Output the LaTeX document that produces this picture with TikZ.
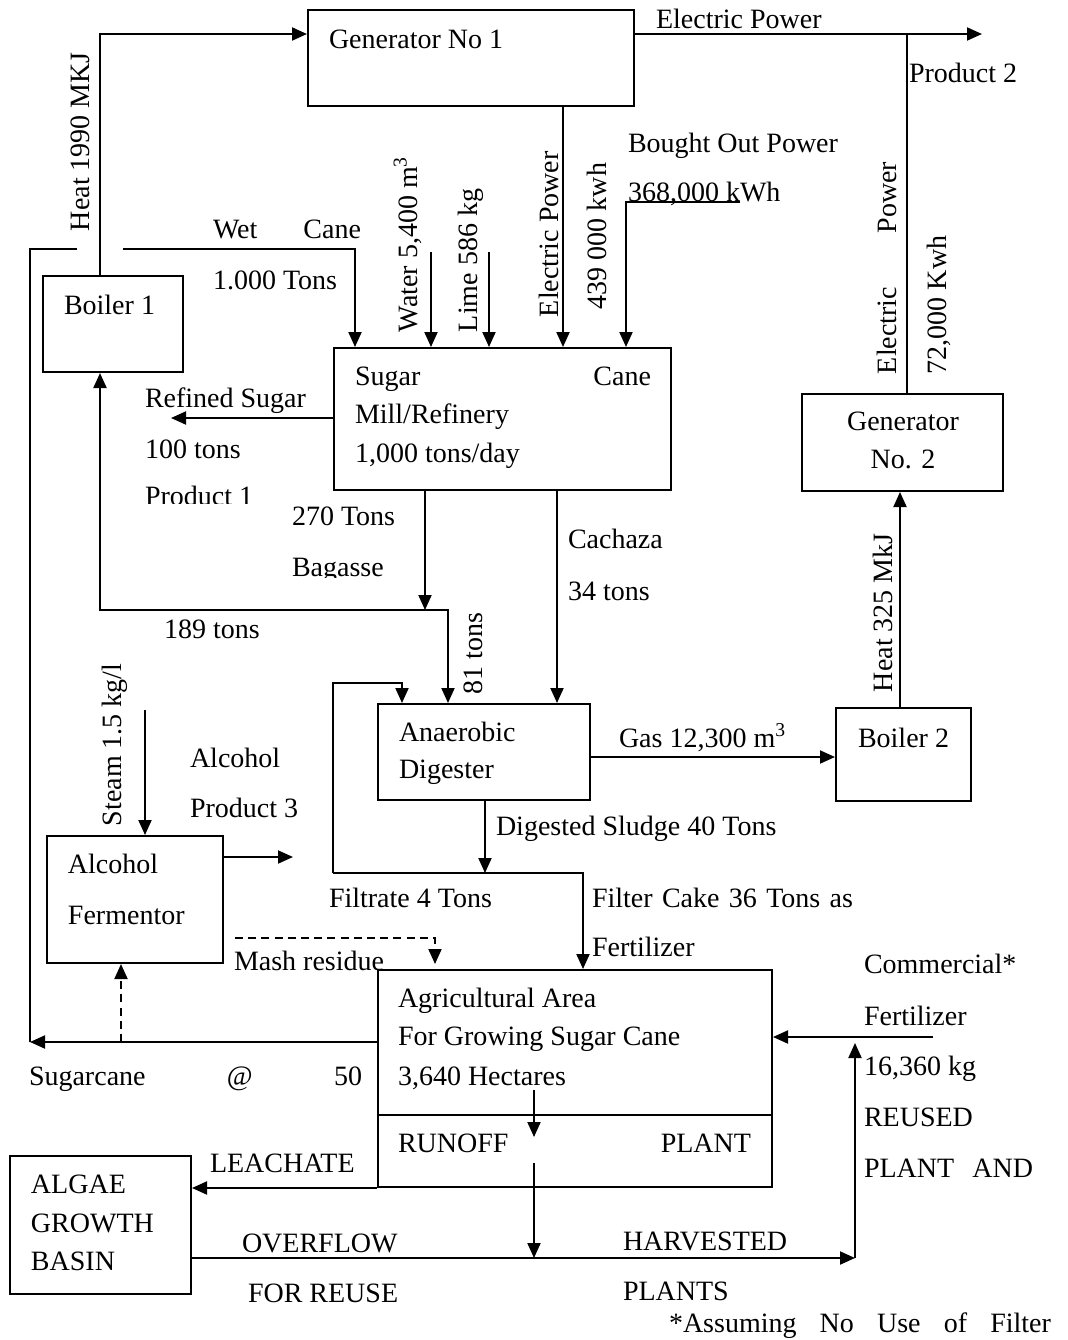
\documentclass[tikz,border=0pt]{standalone}
\usepackage{fontspec}
\setmainfont{Liberation Serif}
\usetikzlibrary{arrows.meta,fit}
\begin{document}
\begin{tikzpicture}[x=0.5pt,y=-0.5pt,line width=1pt,
  box/.style={draw,inner sep=0pt,line width=1pt},
  lbl/.style={anchor=base west,inner sep=0pt,font=\fontsize{14}{16}\selectfont},
  clbl/.style={lbl,anchor=base},
  elbl/.style={lbl,anchor=base east},
  rlbl/.style={lbl,rotate=90},
  arr/.style={-{Triangle[length=7.5pt,width=6.5pt]}},
  dsh/.style={dash pattern=on 4pt off 2.6pt}]
\useasboundingbox (0,0) rectangle (1067,1340);
% boxes
\node[box,fit={(308,10) (634,106)}] (gen1) {};
\node[box,fit={(43,276) (183,372)}] (boiler1) {};
\node[box,fit={(334,348) (671,490)}] (mill) {};
\node[box,fit={(802,394) (1003,491)}] (gen2) {};
\node[box,fit={(378,704) (590,800)}] (digester) {};
\node[box,fit={(836,708) (971,801)}] (boiler2) {};
\node[box,fit={(47,836) (223,963)}] (ferm) {};
\node[box,fit={(378,970) (772,1187)}] (agri) {};
\node[box,fit={(10,1156) (191,1294)}] (algae) {};
% coordinates
\coordinate (hA) at (100,34);
\coordinate (eA) at (907,34);
\coordinate (eEnd) at (982,34);
\coordinate (eB) at (563,200);
\coordinate (bA) at (626,202);
\coordinate (bEnd) at (740,202);
\coordinate (wA) at (431,252);
\coordinate (lA) at (489,252);
\coordinate (scA) at (30,249);
\coordinate (scB) at (355,249);
\coordinate (g1) at (77,249);
\coordinate (g2) at (123,249);
\coordinate (scC) at (30,1042);
\coordinate (rA) at (171,418);
\coordinate (bgA) at (425,610);
\coordinate (lpA) at (100,610);
\coordinate (lpB) at (448,610);
\coordinate (cA) at (557,600);
\coordinate (fA) at (333,683);
\coordinate (fB) at (402,683);
\coordinate (fC) at (333,873);
\coordinate (fD) at (583,873);
\coordinate (dA) at (485,873);
\coordinate (gA) at (700,757);
\coordinate (hB) at (900,600);
\coordinate (sA) at (145,710);
\coordinate (aA) at (225,857);
\coordinate (aB) at (293,857);
\coordinate (mA) at (235,938);
\coordinate (mB) at (435,938);
\coordinate (mC) at (435,964);
\coordinate (dsA) at (121,1042);
\coordinate (dv) at (500,1115);
\coordinate (roA) at (534,1090);
\coordinate (roB) at (534,1137);
\coordinate (roC) at (534,1163);
\coordinate (roD) at (534,1258);
\coordinate (ovA) at (855,1258);
\coordinate (ovB) at (855,1043);
\coordinate (cmA) at (933,1037);
% connectors
\draw[arr] (hA |- boiler1.north) -- (hA) -- (hA -| gen1.west);
\draw[arr] (gen1.east |- eA) -- (eEnd);
\draw (eA) -- (eA |- gen2.north);
\draw[arr] (eB |- gen1.south) -- (eB |- mill.north);
\draw[arr] (bEnd) -- (bA) -- (bA |- mill.north);
\draw[arr] (wA) -- (wA |- mill.north);
\draw[arr] (lA) -- (lA |- mill.north);
\draw[arr] (agri.west |- scC) -- (scC);
\draw (scC) -- (scA) -- (g1);
\draw[arr] (g2) -- (scB) -- (scB |- mill.north);
\draw[arr] (mill.west |- rA) -- (rA);
\draw[arr] (bgA |- mill.south) -- (bgA);
\draw[arr] (bgA) -- (lpA) -- (lpA |- boiler1.south);
\draw[arr] (bgA) -- (lpB) -- (lpB |- digester.north);
\draw[arr] (cA |- mill.south) -- (cA |- digester.north);
\draw[arr] (fC) -- (fA) -- (fB) -- (fB |- digester.north);
\draw[arr] (fC) -- (fD) -- (fD |- agri.north);
\draw[arr] (dA |- digester.south) -- (dA);
\draw[arr] (digester.east |- gA) -- (boiler2.west |- gA);
\draw[arr] (hB |- boiler2.north) -- (hB |- gen2.south);
\draw[arr] (sA) -- (sA |- ferm.north);
\draw[arr] (ferm.east |- aA) -- (aB);
\draw[arr,dsh] (mA) -- (mB) -- (mC);
\draw[arr,dsh] (dsA) -- (dsA |- ferm.south);
\draw (agri.west |- dv) -- (agri.east |- dv);
\draw[arr] (roA) -- (roB);
\draw[arr] (roC) -- (roD);
\draw[arr] (agri.south west) -- (algae.east |- agri.south west);
\draw[arr] (algae.east |- ovA) -- (ovA);
\draw[arr] (ovA) -- (ovB);
\draw[arr] (cmA) -- (agri.east |- cmA);
% labels
\node[lbl] (t1) at (328,48) {Generator No 1};
\node[lbl] (t2) at (655,28) {Electric Power};
\node[lbl] (t3) at (908,82) {Product 2};
\node[lbl] (t4) at (627,152) {Bought Out Power};
\node[lbl] (t5) at (627,201) {368,000 kWh};
\node[lbl] (t6) at (212,238) {\makebox[74pt][s]{Wet Cane}};
\node[lbl] (t7) at (212,289) {1.000 Tons};
\node[lbl] (t8) at (63,314) {Boiler 1};
\node[lbl] (t9) at (354,385) {\makebox[148pt][s]{Sugar Cane}};
\node[lbl] (t10) at (354,423) {Mill/Refinery};
\node[lbl] (t11) at (354,462) {1,000 tons/day};
\node[lbl] (t12) at (144,407) {Refined Sugar};
\node[lbl] (t13) at (144,458) {100 tons};
\begin{scope}
\clip (140,470) rectangle (400,503);
\node[lbl] (t14) at (144,505) {Product 1};
\end{scope}
\node[lbl] (t15) at (291,525) {270 Tons};
\begin{scope}
\clip (285,545) rectangle (420,577);
\node[lbl] (t16) at (291,576) {Bagasse};
\end{scope}
\node[lbl] (t17) at (567,548) {Cachaza};
\node[lbl] (t18) at (567,600) {34 tons};
\node[lbl] (t19) at (163,638) {189 tons};
\node[clbl] (t20) at (903,430) {Generator};
\node[clbl] (t21) at (903,468) {No. 2};
\node[lbl] (t22) at (398,741) {Anaerobic};
\node[lbl] (t23) at (398,778) {Digester};
\node[lbl] (t24) at (618,747) {Gas 12,300 m\textsuperscript{3}};
\node[lbl] (t25) at (857,747) {Boiler 2};
\node[lbl] (t26) at (189,767) {Alcohol};
\node[lbl] (t27) at (189,817) {Product 3};
\node[lbl] (t28) at (67,873) {Alcohol};
\node[lbl] (t29) at (67,924) {Fermentor};
\node[lbl] (t30) at (495,835) {Digested Sludge 40 Tons};
\node[lbl] (t31) at (328,907) {Filtrate 4 Tons};
\node[lbl] (t32) at (591,907) {\makebox[130.5pt][s]{Filter Cake 36 Tons as}};
\node[lbl] (t33) at (591,956) {Fertilizer};
\node[lbl] (t34) at (233,970) {Mash residue};
\node[lbl] (t35) at (397,1007) {Agricultural Area};
\node[lbl] (t36) at (397,1045) {For Growing Sugar Cane};
\node[lbl] (t37) at (397,1085) {3,640 Hectares};
\node[lbl] (t38) at (397,1152) {RUNOFF};
\node[elbl] (t39) at (752,1152) {PLANT};
\node[lbl] (t40) at (28,1085) {\makebox[166.5pt][s]{Sugarcane @ 50}};
\node[lbl] (t41) at (209,1172) {LEACHATE};
\node[lbl] (t42) at (30,1193) {ALGAE};
\node[lbl] (t43) at (30,1232) {GROWTH};
\node[lbl] (t44) at (30,1270) {BASIN};
\node[lbl] (t45) at (241,1252) {OVERFLOW};
\node[lbl] (t46) at (247,1302) {FOR REUSE};
\node[lbl] (t47) at (622,1250) {HARVESTED};
\node[lbl] (t48) at (622,1300) {PLANTS};
\node[lbl] (t49) at (863,973) {Commercial*};
\node[lbl] (t50) at (863,1025) {Fertilizer};
\node[lbl] (t51) at (863,1075) {16,360 kg};
\node[lbl] (t52) at (863,1126) {REUSED};
\node[lbl] (t53) at (863,1177) {\makebox[84.5pt][s]{PLANT AND}};
\node[lbl] (t54) at (668,1332) {\makebox[191pt][s]{*Assuming No Use of Filter}};
% rotated labels
\node[rlbl] (r1) at (90,232) {Heat 1990 MKJ};
\node[rlbl] (r2) at (417,333) {Water 5,400 m\textsuperscript{3}};
\node[rlbl] (r3) at (477,333) {Lime 586 kg};
\node[rlbl] (r4) at (558,318) {Electric Power};
\node[rlbl] (r5) at (606,310) {439 000 kwh};
\node[rlbl] (r6) at (896,375) {\makebox[106pt][s]{Electric Power}};
\node[rlbl] (r7) at (946,375) {72,000 Kwh};
\node[rlbl] (r8) at (892,693) {Heat 325 MkJ};
\node[rlbl] (r9) at (121,827) {Steam 1.5 kg/l};
\node[rlbl] (r10) at (482,695) {81 tons};
\end{tikzpicture}
\end{document}
